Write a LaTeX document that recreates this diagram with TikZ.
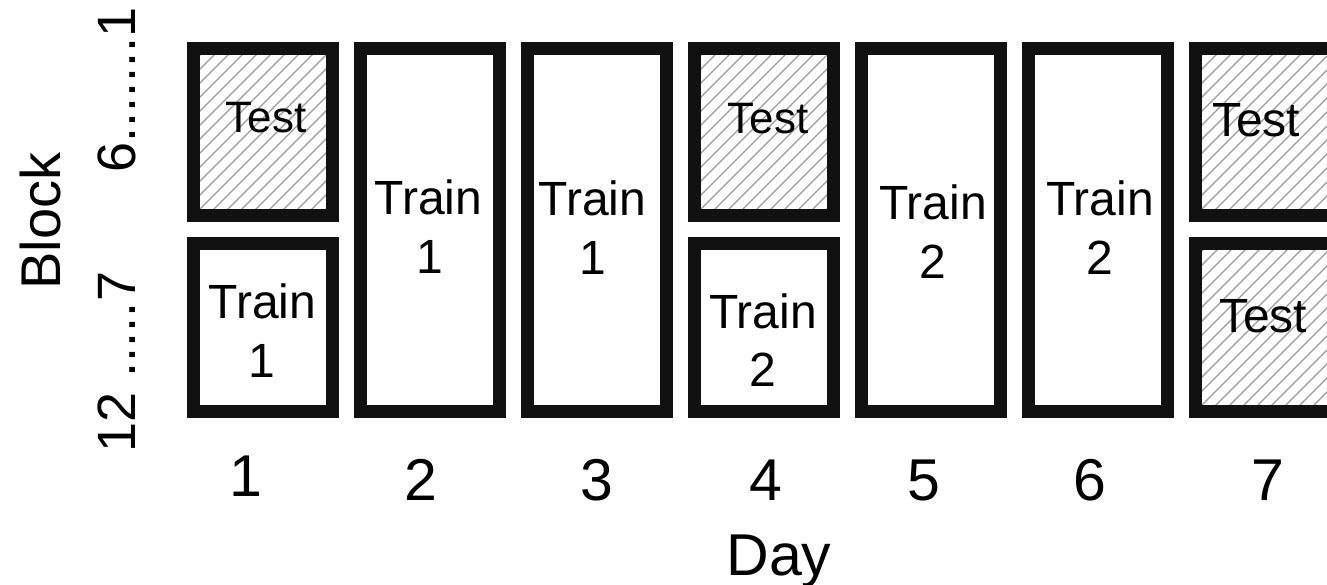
\documentclass[tikz,border=0pt]{standalone}
\usepackage{fontspec}
\setmainfont{Liberation Sans}
\definecolor{ink}{HTML}{111111}
\definecolor{hatchgray}{HTML}{9A9A9A}
\begin{document}
\begin{tikzpicture}[x=1pt,y=-1pt,
  cell/.style={draw=ink, line width=13pt, rectangle, minimum width=139pt,
    inner sep=0pt, outer sep=0pt},
  upper/.style={cell, minimum height=167pt},
  lower/.style={cell, minimum height=168pt},
  tall/.style={cell, minimum height=363pt},
  hatchline/.style={draw=hatchgray, line width=1.1pt},
  hatched/.style={path picture={
    \foreach \k in {-420,-406,...,200}{
      \draw[hatchline] ([xshift=\k pt]path picture bounding box.south west) -- ++(420pt,420pt);}}},
  testlbl/.style={font=\fontsize{44}{44}\selectfont, anchor=base},
  testbig/.style={font=\fontsize{48}{48}\selectfont, anchor=base},
  trainlbl/.style={font=\fontsize{48}{48}\selectfont, anchor=base},
  daylbl/.style={font=\fontsize{59}{59}\selectfont, anchor=base},
  blocklbl/.style={font=\fontsize{56}{56}\selectfont, anchor=base, rotate=90},
  ticklbl/.style={font=\fontsize{54}{54}\selectfont, anchor=base, rotate=90},
]
\useasboundingbox (0,0) rectangle (1327,585);

% day 1
\node[upper, hatched] (d1t) at (263,132) {};
\node[lower] (d1b) at (263,327.5) {};
\node[testlbl] (d1test) at (266,133) {Test};
\node[trainlbl] (d1train) at (262.5,318) {Train};
\node[trainlbl] (d1num) at (262,377) {1};

% day 2
\node[tall] (d2) at (430,230) {};
\node[trainlbl] (d2train) at (428.5,215) {Train};
\node[trainlbl] (d2num) at (430,273) {1};

% day 3
\node[tall] (d3) at (597,230) {};
\node[trainlbl] (d3train) at (592.5,216) {Train};
\node[trainlbl] (d3num) at (593,275) {1};

% day 4
\node[upper, hatched] (d4t) at (764,132) {};
\node[lower] (d4b) at (764,327.5) {};
\node[testlbl] (d4test) at (768,134) {Test};
\node[trainlbl] (d4train) at (763,328) {Train};
\node[trainlbl] (d4num) at (763,386) {2};

% day 5
\node[tall] (d5) at (931,230) {};
\node[trainlbl] (d5train) at (933,220) {Train};
\node[trainlbl] (d5num) at (933,278) {2};

% day 6
\node[tall] (d6) at (1098,230) {};
\node[trainlbl] (d6train) at (1100,216) {Train};
\node[trainlbl] (d6num) at (1100,274) {2};

% day 7
\node[upper, hatched] (d7t) at (1265,132) {};
\node[lower, hatched] (d7b) at (1265,327.5) {};
\node[testbig] (d7test) at (1256,137) {Test};
\node[testbig] (d7testb) at (1263,332) {Test};

% x axis
\node[daylbl] (x1) at (245.5,496) {1};
\node[daylbl] (x2) at (421,500) {2};
\node[daylbl] (x3) at (597,500) {3};
\node[daylbl] (x4) at (766,500) {4};
\node[daylbl] (x5) at (923.5,500) {5};
\node[daylbl] (x6) at (1090,500) {6};
\node[daylbl] (x7) at (1268,500) {7};
\node[daylbl] (xlabel) at (779,575) {Day};

% y axis
\node[blocklbl] (ylabel) at (60,221) {Block};
\node[ticklbl] (ytop) at (135,90) {6.......1};
\node[ticklbl] (ybot) at (135,362) {12 .....7};
\end{tikzpicture}
\end{document}
